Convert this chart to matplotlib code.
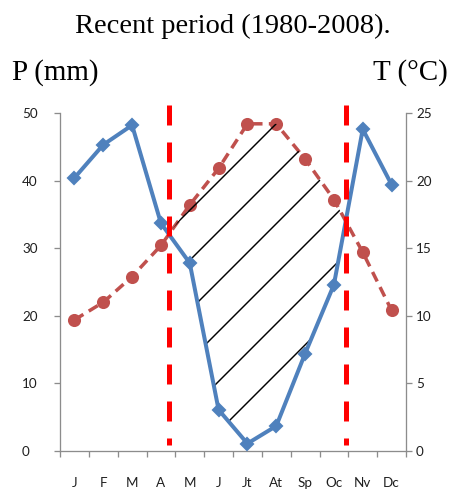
import numpy as np
import matplotlib
matplotlib.use("Agg")
import matplotlib.pyplot as plt

# Monthly values, recent period 1980-2008
months = ["J", "F", "M", "A", "M", "J", "Jt", "At", "Sp", "Oc", "Nv", "Dc"]
precip_mm = [40.4, 45.3, 48.2, 33.7, 27.8, 6.1, 1.1, 3.7, 14.4, 24.6, 47.6, 39.4]
temp_c = [9.7, 11.0, 12.9, 15.2, 18.2, 20.9, 24.2, 24.2, 21.6, 18.6, 14.7, 10.4]

DPI = 150
W, H = 452, 493

BLUE = "#4F81BD"
RED = "#C0504D"
SPINE = "#8C8C8C"
TICKTXT = "#1f1f1f"

plt.rcParams["hatch.linewidth"] = 0.7


def px(v):
    return v * 72 / DPI


x = np.arange(len(months))
P = np.array(precip_mm)
T = np.array(temp_c)
T2 = 2 * T  # temperature on precipitation scale (P = 2T)

# dry period limits: where the P curve crosses the 2T curve
diff = P - T2
crossings = []
for i in range(len(diff) - 1):
    if np.sign(diff[i]) != np.sign(diff[i + 1]):
        crossings.append(i + diff[i] / (diff[i] - diff[i + 1]))

fig = plt.figure(figsize=(W / DPI, H / DPI), dpi=DPI)
ax = fig.add_axes([60 / W, 42 / H, 346 / W, 338 / H])
ax2 = ax.twinx()

# temperature (right axis)
ax2.plot(x, T, color=RED, lw=px(3.5), ls=(0, (3.0, 1.8)), marker="o",
         ms=px(11), mec=RED, mfc=RED, zorder=3)
ax2.set_ylim(0, 25)
ax2.set_yticks(np.arange(0, 26, 5))

# precipitation + hatch + dry period lines (left axis, drawn on top)
ax.set_zorder(ax2.get_zorder() + 1)
ax.patch.set_visible(False)

ax.fill_between(x, P, T2, where=T2 >= P, interpolate=True,
                facecolor="none", edgecolor="black", linewidth=0,
                hatch="/", zorder=1)
ax.plot(x, P, color=BLUE, lw=px(4), marker="D", ms=px(8), mec=BLUE,
        mfc=BLUE, zorder=3)

for xc in crossings:
    ax.plot([xc, xc], [51.2, 0.9], color="red", lw=px(5),
            ls=(0, (4.0, 3.4)), clip_on=False, zorder=4)

ax.set_ylim(0, 50)
ax.set_yticks(np.arange(0, 51, 10))
ax.set_xlim(-0.5, len(months) - 0.5)
ax.set_xticks(np.arange(-0.5, len(months), 1.0))
ax.set_xticklabels([])
ax.set_xticks(x, minor=True)
ax.set_xticklabels(months, minor=True)

for a in (ax, ax2):
    a.spines["top"].set_visible(False)
    for s in ("left", "right", "bottom"):
        a.spines[s].set_color(SPINE)
        a.spines[s].set_linewidth(px(1.3))

ax.spines["right"].set_visible(False)
ax2.spines["left"].set_visible(False)
ax2.spines["bottom"].set_visible(False)

ax.tick_params(axis="y", which="major", length=px(6), width=px(1.3),
               color=SPINE, pad=px(32), labelcolor=TICKTXT)
for lab in ax.get_yticklabels():
    lab.set_horizontalalignment("left")
    lab.set_fontfamily("Lato")
    lab.set_fontsize(px(13.5))
ax.tick_params(axis="x", which="major", length=px(6), width=px(1.3),
               color=SPINE)
ax.tick_params(axis="x", which="minor", length=0, pad=px(26),
               labelcolor=TICKTXT)
for lab in ax.get_xticklabels(minor=True):
    lab.set_fontfamily("Lato")
    lab.set_fontsize(px(13.5))
ax2.tick_params(axis="y", length=px(6), width=px(1.3), color=SPINE,
                pad=px(4), labelcolor=TICKTXT)
for lab in ax2.get_yticklabels():
    lab.set_fontfamily("Lato")
    lab.set_fontsize(px(13.5))

serif = ["Liberation Serif", "DejaVu Serif"]
fig.text(233 / W, 1 - 26 / H, "Recent period (1980-2008).", ha="center",
         va="center", family=serif, size=px(28.5))
fig.text(12 / W, 1 - 73 / H, "P (mm)", ha="left", va="center",
         family=serif, size=px(29))
fig.text(448 / W, 1 - 73 / H, "T (°C)", ha="right", va="center",
         family=serif, size=px(29))

fig.savefig("out.png", dpi=DPI)
